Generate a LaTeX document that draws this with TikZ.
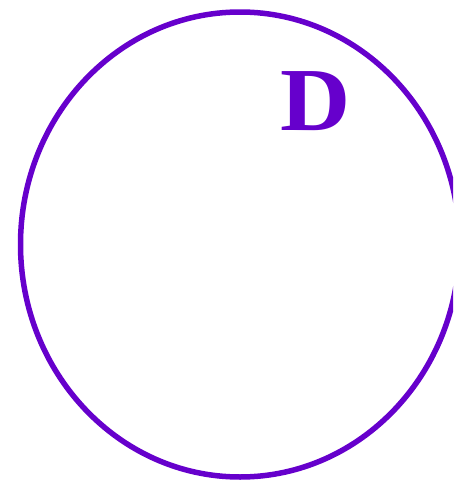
\documentclass[tikz,border=0pt]{standalone}
\usepackage{fontspec}
\setmainfont{Liberation Serif}
\definecolor{setpurple}{HTML}{6600CC}
\tikzset{
  setline/.style={draw=setpurple, line width=5.5pt},
  setlabel/.style={text=setpurple, font=\fontsize{90}{90}\selectfont\bfseries, inner sep=0pt, xscale=1.08}
}
\begin{document}
\begin{tikzpicture}[x=1pt,y=-1pt]
\useasboundingbox (0,0) rectangle (453,482);
\clip (0,0) rectangle (453,482);
\draw[setline] (240,244.5) ellipse (219.5 and 232.5);
\node[setlabel] (D) at (315.5,101.5) {D};
\end{tikzpicture}
\end{document}
